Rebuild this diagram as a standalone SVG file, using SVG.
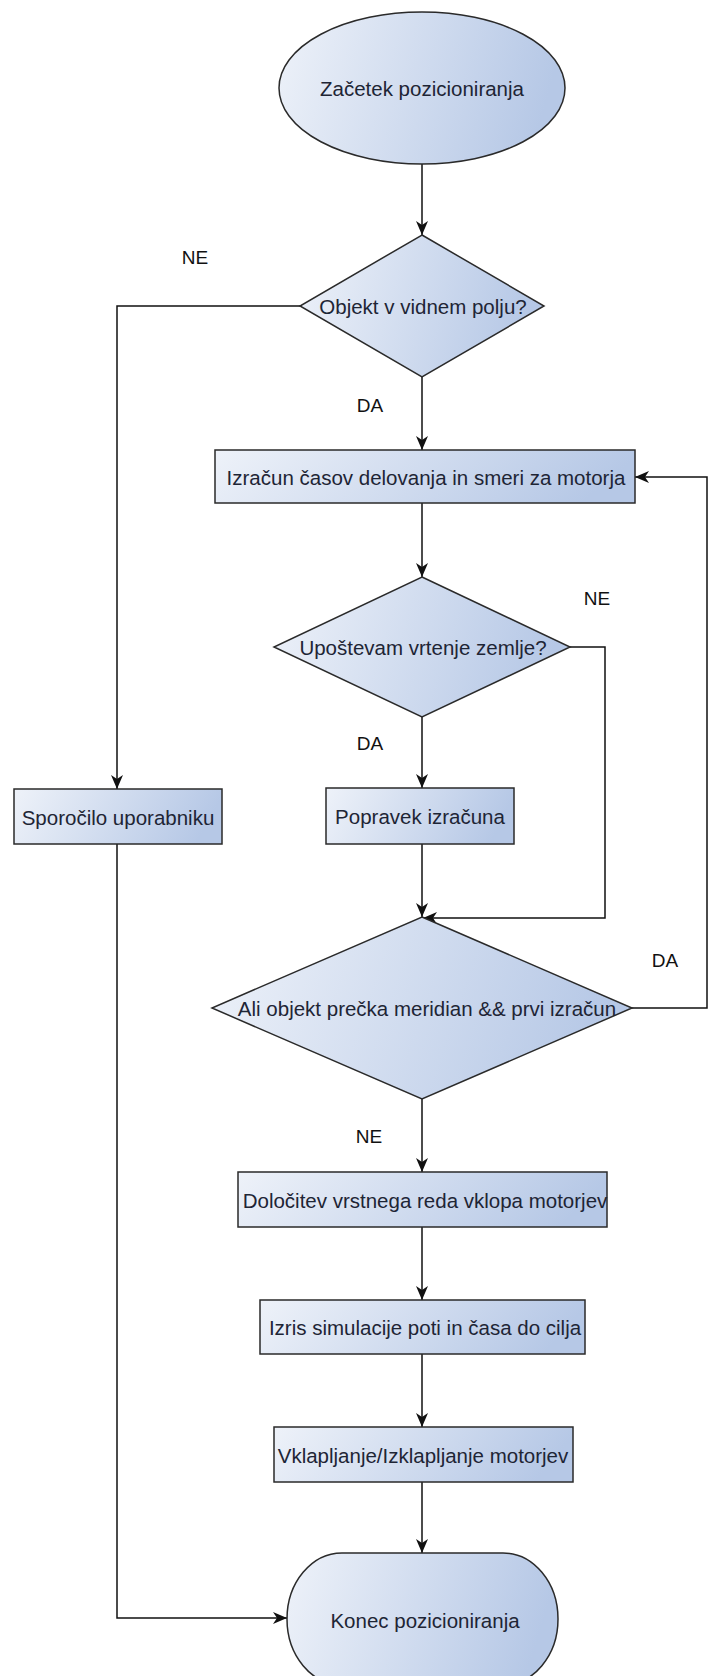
<svg xmlns="http://www.w3.org/2000/svg" width="708" height="1676" viewBox="0 0 708 1676">
<defs>
<linearGradient id="g" x1="0" y1="0" x2="1" y2="0.15">
<stop offset="0" stop-color="#eef2f9"/>
<stop offset="1" stop-color="#b6c8e6"/>
</linearGradient>
<marker id="arr" viewBox="0 0 14 12" refX="14" refY="6" markerWidth="14" markerHeight="12" markerUnits="userSpaceOnUse" orient="auto">
<path d="M0,0 L14,6 L0,12 L4,6 Z" fill="#111"/>
</marker>
<style>
.s{fill:url(#g);stroke:#2a2a2a;stroke-width:1.5}
.t{font-family:"Liberation Sans",Arial,sans-serif;font-size:20.5px;fill:#1e2535;text-anchor:middle;dominant-baseline:central}
.l{font-family:"Liberation Sans",Arial,sans-serif;font-size:19px;fill:#111;text-anchor:middle;dominant-baseline:central}
.c{fill:none;stroke:#111;stroke-width:1.5}
</style>
</defs>
<rect width="708" height="1676" fill="#fff"/>
<g id="connectors">
<path class="c" d="M422,164 L422,235" marker-end="url(#arr)"/>
<path class="c" d="M300,306 L117,306 L117,789" marker-end="url(#arr)"/>
<path class="c" d="M422,377 L422,450" marker-end="url(#arr)"/>
<path class="c" d="M422,503 L422,577" marker-end="url(#arr)"/>
<path class="c" d="M570,647 L605,647 L605,918 L423,918" marker-end="url(#arr)"/>
<path class="c" d="M422,717 L422,788" marker-end="url(#arr)"/>
<path class="c" d="M422,844 L422,917" marker-end="url(#arr)"/>
<path class="c" d="M632,1008 L707,1008 L707,477 L635,477" marker-end="url(#arr)"/>
<path class="c" d="M422,1099 L422,1172" marker-end="url(#arr)"/>
<path class="c" d="M422,1227 L422,1300" marker-end="url(#arr)"/>
<path class="c" d="M422,1354 L422,1427" marker-end="url(#arr)"/>
<path class="c" d="M422,1482 L422,1553" marker-end="url(#arr)"/>
<path class="c" d="M117,844 L117,1618 L287,1618" marker-end="url(#arr)"/>
<text class="l" x="195" y="257">NE</text>
<text class="l" x="370" y="405">DA</text>
<text class="l" x="597" y="598">NE</text>
<text class="l" x="370" y="743">DA</text>
<text class="l" x="665" y="960">DA</text>
<text class="l" x="369" y="1136">NE</text>
</g>
<g id="start">
<ellipse class="s" cx="422" cy="88" rx="143" ry="76"/>
<text class="t" x="422" y="88">Začetek pozicioniranja</text>
</g>
<g id="dec1">
<polygon class="s" points="422,235 544,306 422,377 300,306"/>
<text class="t" x="423" y="306">Objekt v vidnem polju?</text>
</g>
<g id="calc">
<rect class="s" x="215" y="450" width="420" height="53"/>
<text class="t" x="426" y="477">Izračun časov delovanja in smeri za motorja</text>
</g>
<g id="dec2">
<polygon class="s" points="422,577 570,647 422,717 274,647"/>
<text class="t" x="423" y="647">Upoštevam vrtenje zemlje?</text>
</g>
<g id="fix">
<rect class="s" x="326" y="788" width="188" height="56"/>
<text class="t" x="420" y="816">Popravek izračuna</text>
</g>
<g id="msg">
<rect class="s" x="14" y="789" width="208" height="55"/>
<text class="t" x="118" y="817">Sporočilo uporabniku</text>
</g>
<g id="dec3">
<polygon class="s" points="422,917 632,1008 422,1099 212,1008"/>
<text class="t" x="427" y="1008">Ali objekt prečka meridian &amp;&amp; prvi izračun</text>
</g>
<g id="order">
<rect class="s" x="238" y="1172" width="369" height="55"/>
<text class="t" x="425" y="1200">Določitev vrstnega reda vklopa motorjev</text>
</g>
<g id="sim">
<rect class="s" x="260" y="1300" width="325" height="54"/>
<text class="t" x="425" y="1327">Izris simulacije poti in časa do cilja</text>
</g>
<g id="motors">
<rect class="s" x="274" y="1427" width="299" height="55"/>
<text class="t" x="423" y="1455">Vklapljanje/Izklapljanje motorjev</text>
</g>
<g id="end">
<rect class="s" x="287" y="1553" width="271" height="132" rx="55" ry="66"/>
<text class="t" x="425" y="1620">Konec pozicioniranja</text>
</g>
</svg>
